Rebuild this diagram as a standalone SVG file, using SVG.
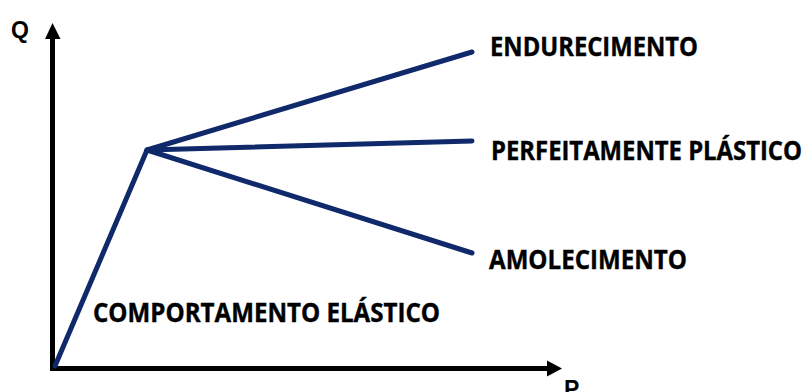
<svg xmlns="http://www.w3.org/2000/svg" width="806" height="392" viewBox="0 0 806 392">
<style>
.axis{stroke:#000;stroke-width:5;fill:none}
.head{fill:#000}
.curve{stroke:#10296b;stroke-width:5;fill:none;stroke-linecap:round;stroke-linejoin:round}
.lbl{font-family:"Open Sans","Liberation Sans",sans-serif;font-weight:700;font-size:26px;fill:#000;stroke:#000;stroke-width:0.4}
.ax{font-family:"Liberation Sans",Arial,sans-serif;font-weight:700;font-size:23px;fill:#000}
</style>
<rect width="806" height="392" fill="#fff"/>
<g id="axes">
<line class="axis" x1="52.5" y1="371" x2="52.5" y2="36"/>
<polygon class="head" points="52.5,23 45,39 60.5,39"/>
<line class="axis" x1="50" y1="368.5" x2="549" y2="368.5"/>
<polygon class="head" points="562,368.5 547,360.5 547,376.5"/>
<text class="ax" x="11" y="37.5">Q</text>
<text class="ax" x="564" y="396.5">P</text>
</g>
<g id="connectors">
<polyline class="curve" points="55,366 147,150 472,52"/>
<line class="curve" x1="147" y1="150" x2="472" y2="141"/>
<line class="curve" x1="147" y1="150" x2="472" y2="253"/>
</g>
<g id="endurecimento"><text class="lbl" x="490" y="55.5" textLength="208" lengthAdjust="spacingAndGlyphs">ENDURECIMENTO</text></g>
<g id="perfeitamente"><text class="lbl" x="491" y="159.5" textLength="311" lengthAdjust="spacingAndGlyphs">PERFEITAMENTE PLÁSTICO</text></g>
<g id="amolecimento"><text class="lbl" x="489" y="268.5" textLength="198" lengthAdjust="spacingAndGlyphs">AMOLECIMENTO</text></g>
<g id="elastico"><text class="lbl" x="93" y="321.5" textLength="347" lengthAdjust="spacingAndGlyphs">COMPORTAMENTO ELÁSTICO</text></g>
</svg>
